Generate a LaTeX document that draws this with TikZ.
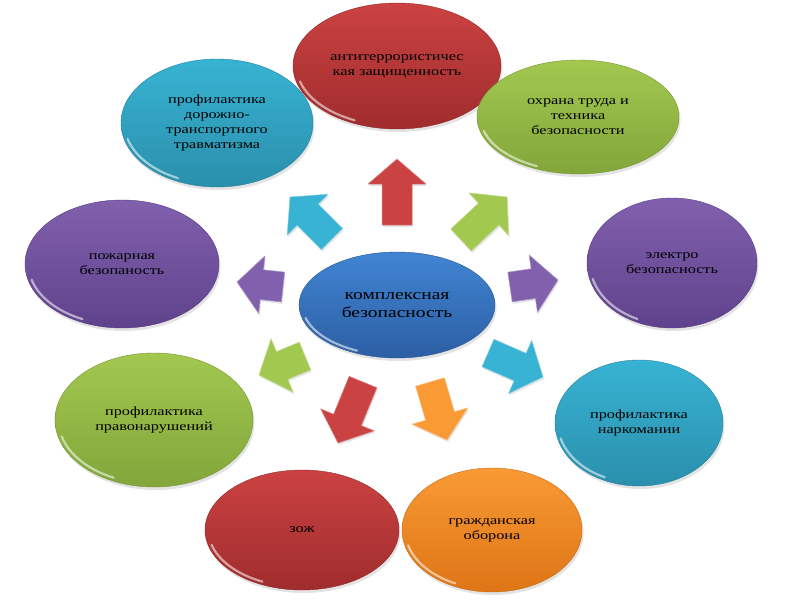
\documentclass[tikz,border=0pt]{standalone}
\usepackage{fontspec}
\setmainfont{Liberation Serif}[FakeStretch=1.3]
\usetikzlibrary{shapes.geometric,shadows,calc}
\definecolor{redA}{HTML}{CB4242}
\definecolor{redB}{HTML}{A02C2D}
\definecolor{tealA}{HTML}{38B3D3}
\definecolor{tealB}{HTML}{2A8FAC}
\definecolor{greenA}{HTML}{A3C850}
\definecolor{greenB}{HTML}{82A63A}
\definecolor{purpleA}{HTML}{8160AE}
\definecolor{purpleB}{HTML}{5F428C}
\definecolor{blueA}{HTML}{4184D2}
\definecolor{blueB}{HTML}{2C5FA4}
\definecolor{orangeA}{HTML}{F99A35}
\definecolor{orangeB}{HTML}{DE7516}
\tikzset{
  bubble/.style={ellipse, inner sep=0pt, align=center, text=black,
    font=\fontsize{12.5}{15}\selectfont,
    drop shadow={opacity=0.22, shadow xshift=1.5pt, shadow yshift=-3pt}},
  shine/.style={white, opacity=0.55, line width=2.2pt, line cap=round},
  blockarrow/.style={line width=0.5pt, line join=round,
    drop shadow={opacity=0.2, shadow xshift=1pt, shadow yshift=-2pt}}
}
% name, x, y, rx, ry, colour, text
\newcommand\bubble[7]{%
  \node[bubble, top color=#6A, bottom color=#6B, draw=#6B!90!black,
        minimum width=#4*2pt, minimum height=#5*2pt] (#1) at (#2,#3) {#7};
  \draw[shine] ($(#1.center)+(195:{#4*0.965pt} and {#5*0.95pt})$)
     arc[start angle=195, end angle=245, x radius=#4*0.965pt, y radius=#5*0.95pt];
}
% name, tail, tip, colour
\newcommand\barrow[4]{%
  \coordinate (#1-t) at (#2);
  \coordinate (#1-h) at (#3);
  \coordinate (#1-b) at ($(#1-h)!25pt!(#1-t)$);
  \filldraw[blockarrow, fill=#4, draw=#4!65!white]
    ($(#1-t)!15pt!90:(#1-h)$) -- ($(#1-b)!15pt!90:(#1-h)$) --
    ($(#1-b)!29pt!90:(#1-h)$) -- (#1-h) --
    ($(#1-b)!29pt!-90:(#1-h)$) -- ($(#1-b)!15pt!-90:(#1-h)$) --
    ($(#1-t)!15pt!-90:(#1-h)$) -- cycle;
}
\begin{document}
\begin{tikzpicture}[x=1pt, y=-1pt]
\useasboundingbox[fill=white] (0,0) rectangle (800,600);

% arrows
\barrow{a1}{397,225}{397,159}{redA}
\barrow{a2}{332,239}{290,197}{tealA}
\barrow{a3}{461,240}{507,197}{greenA}
\barrow{a4}{283,287}{237,282}{purpleA}
\barrow{a5}{510,287}{558,280}{purpleA}
\barrow{a6}{305,356}{259,375}{greenA}
\barrow{a7}{488,353}{543,377}{tealA}
\barrow{a8}{363,382}{338,443}{redA}
\barrow{a9}{430,382}{447,440}{orangeA}

% bubbles
\bubble{top}{397}{66}{104}{63}{red}{антитеррористичес\\кая защищенность}
\bubble{tl}{217}{123}{96}{64}{teal}{профилактика\\дорожно-\\транспортного\\травматизма}
\bubble{tr}{578}{117}{101}{57}{green}{охрана труда и\\техника\\безопасности}
\bubble{l}{122}{264}{97}{64}{purple}{пожарная\\безопаность}
\bubble{r}{672}{263}{85}{65}{purple}{электро\\безопасность}
\bubble{ll}{154}{420}{99}{67}{green}{профилактика\\правонарушений}
\bubble{lr}{639}{423}{84}{63}{teal}{профилактика\\наркомании}
\bubble{bl}{302}{530}{97}{60}{red}{зож}
\bubble{br}{492}{530}{90}{62}{orange}{гражданская\\оборона}

\node[bubble, top color=blueA, bottom color=blueB, draw=blueB!90!black,
      minimum width=196pt, minimum height=106pt,
      font=\fontsize{15}{18}\selectfont] (c) at (397,305) {комплексная\\безопасность};
\draw[shine] ($(c.center)+(195:{98*0.965pt} and {53*0.95pt})$)
   arc[start angle=195, end angle=245, x radius=98*0.965pt, y radius=53*0.95pt];
\end{tikzpicture}
\end{document}
